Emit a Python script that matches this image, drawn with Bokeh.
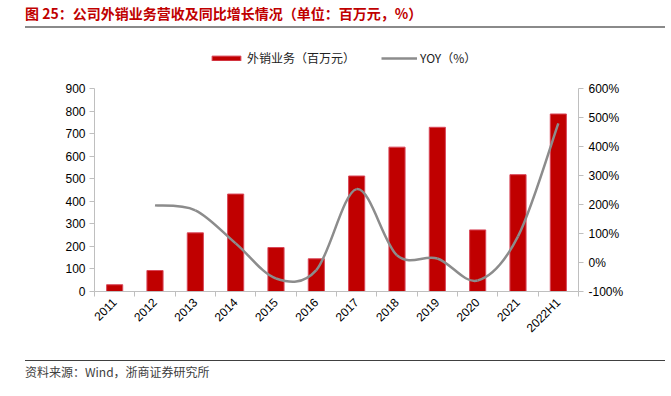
import math
from bokeh.plotting import figure
from bokeh.layouts import column
from bokeh.models import (Range1d, LinearAxis, FixedTicker, Legend, LegendItem, Div)
from bokeh.embed import file_html
from bokeh.resources import INLINE

# ---- data ----
years = ["2011", "2012", "2013", "2014", "2015", "2016", "2017", "2018", "2019", "2020", "2021", "2022H1"]
export_rev = [30, 93, 260, 432, 195, 145, 512, 640, 728, 273, 518, 787]
yoy = [None, 197, 180, 66, -55, -26, 253, 25, 14, -62, 90, 480]
left_ticks = [0, 100, 200, 300, 400, 500, 600, 700, 800, 900]
right_ticks = [-100, 0, 100, 200, 300, 400, 500, 600]

title_text = "图 25：公司外销业务营收及同比增长情况（单位：百万元，%）"
source_text = "资料来源：Wind，浙商证券研究所"
bar_label = "外销业务（百万元）"
line_label = "YOY（%）"

RED = "#C00000"
GRAY_LINE = "#8C8C8C"
AXIS = "#BFBFBF"
LBL_FONT = "Liberation Sans"
CJK = "Noto Sans CJK SC"
W = 668
TOP_H = 30

# ---- header ----
header = Div(width=W, height=TOP_H, text=(
    '<div style="position:relative;width:%dpx;height:%dpx;">'
    '<div style="position:absolute;left:20px;top:-1px;font-family:\'%s\';font-size:14px;'
    'font-weight:bold;color:%s;line-height:18px;white-space:nowrap;">%s</div>'
    '<div style="position:absolute;left:20px;top:21px;width:640px;height:2px;background:#8A8A8A;"></div>'
    '</div>') % (W - 10, TOP_H, CJK, RED, title_text))

# ---- main chart ----
AX_H = 203          # pixel height of the value axes
EXTRA = 44          # room above the axes for the legend, inside the frame
FRAME_H = AX_H + EXTRA
L0, L1 = left_ticks[0], left_ticks[-1]
R0, R1 = right_ticks[0], right_ticks[-1]
xs = list(range(len(years)))
p = figure(frame_width=484, frame_height=FRAME_H,
           min_border_left=94, min_border_right=W - 94 - 484, min_border_top=4,
           min_border_bottom=54,
           x_range=Range1d(-0.5, len(years) - 0.5),
           y_range=Range1d(L0, L0 + (L1 - L0) * FRAME_H / AX_H),
           output_backend="svg", toolbar_location=None)
p.extra_y_ranges = {"yoy": Range1d(R0, R0 + (R1 - R0) * FRAME_H / AX_H)}
p.xgrid.visible = False
p.ygrid.visible = False
p.outline_line_color = None

bars = p.vbar(x=xs, top=export_rev, width=0.4, fill_color=RED, line_color="#D9485A", line_width=1)

# smoothed YOY line: bezier segments whose control points come from neighbouring data points
pts = [(x, y) for x, y in zip(xs, yoy) if y is not None]
n = len(pts)
x0s, y0s, x1s, y1s, cx0s, cy0s, cx1s, cy1s = [], [], [], [], [], [], [], []
for i in range(n - 1):
    pm = pts[max(i - 1, 0)]
    pa = pts[i]
    pb = pts[i + 1]
    pn = pts[min(i + 2, n - 1)]
    x0s.append(pa[0]); y0s.append(pa[1])
    x1s.append(pb[0]); y1s.append(pb[1])
    cx0s.append(pa[0] + (pb[0] - pm[0]) / 6.0); cy0s.append(pa[1] + (pb[1] - pm[1]) / 6.0)
    cx1s.append(pb[0] - (pn[0] - pa[0]) / 6.0); cy1s.append(pb[1] - (pn[1] - pa[1]) / 6.0)
curve = p.bezier(x0=x0s, y0=y0s, x1=x1s, y1=y1s, cx0=cx0s, cy0=cy0s, cx1=cx1s, cy1=cy1s,
                 line_color=GRAY_LINE, line_width=2.5, y_range_name="yoy")

xa = p.xaxis[0]
xa.ticker = FixedTicker(ticks=xs, minor_ticks=[i - 0.5 for i in range(len(years) + 1)])
xa.major_label_overrides = {i: y for i, y in enumerate(years)}
xa.major_tick_line_color = None
xa.minor_tick_line_color = AXIS
xa.minor_tick_in = 0
xa.minor_tick_out = 5
xa.axis_line_color = AXIS
xa.major_label_orientation = math.pi / 4
xa.major_label_text_font = LBL_FONT
xa.major_label_text_font_size = "12px"
xa.major_label_text_color = "#000000"
xa.major_label_standoff = 3

ya = p.yaxis[0]
ya.ticker = FixedTicker(ticks=left_ticks)
ya.bounds = (L0, L1)
ya.axis_line_color = AXIS
ya.major_tick_line_color = AXIS
ya.major_tick_in = 0
ya.major_tick_out = 5
ya.minor_tick_line_color = None
ya.major_label_text_font = LBL_FONT
ya.major_label_text_font_size = "12px"
ya.major_label_text_color = "#000000"
ya.major_label_standoff = 4

ra = LinearAxis(y_range_name="yoy", ticker=FixedTicker(ticks=right_ticks), bounds=(R0, R1))
ra.major_label_overrides = {v: f"{v}%" for v in right_ticks}
ra.axis_line_color = AXIS
ra.major_tick_line_color = AXIS
ra.major_tick_in = 0
ra.major_tick_out = 5
ra.minor_tick_line_color = None
ra.major_label_text_font = LBL_FONT
ra.major_label_text_font_size = "12px"
ra.major_label_text_color = "#000000"
ra.major_label_standoff = 5
p.add_layout(ra, "right")

legend = Legend(items=[LegendItem(label=bar_label, renderers=[bars]),
                       LegendItem(label=line_label, renderers=[curve])],
                orientation="horizontal", location=(114, AX_H + 22),
                glyph_width=36, glyph_height=6, label_standoff=3, spacing=26,
                padding=0, margin=0, border_line_color=None, background_fill_alpha=0,
                label_text_font=CJK, label_text_font_size="12px", label_text_color="#222222")
p.add_layout(legend, "center")

# ---- footer ----
footer = Div(width=W, height=40, text=(
    '<div style="position:relative;width:%dpx;height:35px;">'
    '<div style="position:absolute;left:20px;top:10px;width:640px;height:1px;background:#404040;"></div>'
    '<div style="position:absolute;left:20px;top:14px;font-family:\'%s\';font-size:12px;'
    'color:#404040;line-height:16px;white-space:nowrap;">%s</div>'
    '</div>') % (W - 10, CJK, source_text))

layout = column(header, p, footer, spacing=0)
open("out.html", "w").write(file_html(layout, INLINE))
